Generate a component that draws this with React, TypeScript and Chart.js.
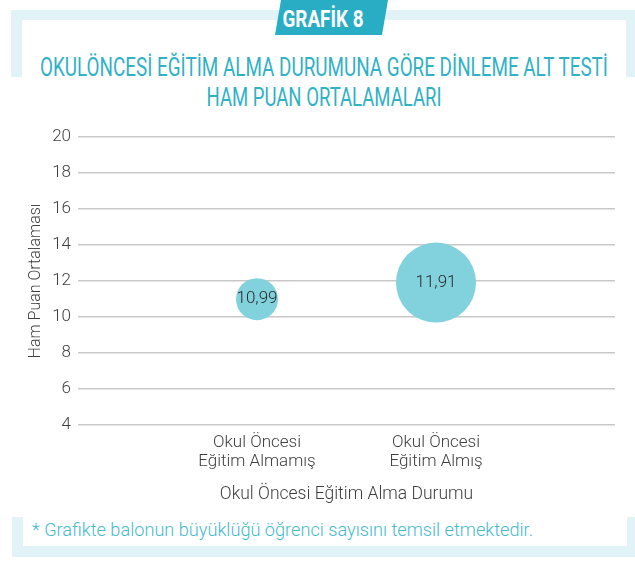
import React, { useEffect, useLayoutEffect, useRef } from "react";
import { Chart, registerables } from "chart.js";

Chart.register(...registerables);

// ---- Data ----
const categories: string[][] = [
  ["Okul Öncesi", "Eğitim Almamış"],
  ["Okul Öncesi", "Eğitim Almış"],
];
const means: number[] = [10.99, 11.91];
const bubbleSizes: number[] = [21, 40];
const valueLabels: string[] = means.map((m) => m.toFixed(2).replace(".", ","));
const yMin = 4;
const yMax = 20;
const yStep = 2;
const xTitle = "Okul Öncesi Eğitim Alma Durumu";
const yTitle = "Ham Puan Ortalaması";
const titleLines: string[] = [
  "OKULÖNCESİ EĞİTİM ALMA DURUMUNA GÖRE DİNLEME ALT TESTİ",
  "HAM PUAN ORTALAMALARI",
];
const badgeText = "GRAFİK 8";
const footnote = "* Grafikte balonun büyüklüğü öğrenci sayısını temsil etmektedir.";

const FRAME = "#e2f3f8";
const TEAL = "#2fb1c6";
const BADGE = "#29adc4";
const BUBBLE = "#82d2de";
const TEXT = "#3e3e3e";

type FitProps = {
  text: string;
  x: number;
  y: number;
  width: number;
  size: number;
  color: string;
  weight?: number;
  anchor?: "center" | "left";
};

function FitText({ text, x, y, width, size, color, weight = 400, anchor = "center" }: FitProps) {
  const ref = useRef<HTMLSpanElement>(null);
  useLayoutEffect(() => {
    const el = ref.current;
    if (!el) return;
    const apply = () => {
      el.style.transform = "none";
      const w = el.getBoundingClientRect().width;
      const k = w > 0 ? width / w : 1;
      el.style.transform =
        anchor === "center" ? `translateX(-50%) scaleX(${k})` : `scaleX(${k})`;
    };
    apply();
    if ((document as any).fonts && (document as any).fonts.ready) {
      (document as any).fonts.ready.then(apply);
    }
  }, [text, width, anchor]);
  return (
    <span
      ref={ref}
      style={{
        position: "absolute",
        left: x,
        top: y,
        whiteSpace: "nowrap",
        fontFamily: "Roboto, 'DejaVu Sans', sans-serif",
        fontSize: size,
        fontWeight: weight,
        lineHeight: 1,
        color,
        transformOrigin: anchor === "center" ? "center" : "left",
      }}
    >
      {text}
    </span>
  );
}

const labelPlugin = {
  id: "bubbleLabels",
  afterDatasetsDraw(chart: any) {
    const ctx = chart.ctx;
    const meta = chart.getDatasetMeta(0);
    ctx.save();
    ctx.font = "300 17px Roboto, sans-serif";
    ctx.fillStyle = "#2a2a2a";
    ctx.textAlign = "center";
    ctx.textBaseline = "middle";
    meta.data.forEach((el: any, i: number) => {
      ctx.fillText(valueLabels[i], el.x, el.y);
    });
    ctx.restore();
  },
};

function BubbleChart() {
  const canvasRef = useRef<HTMLCanvasElement>(null);
  useEffect(() => {
    if (!canvasRef.current) return;
    const chart = new Chart(canvasRef.current, {
      type: "bubble",
      data: {
        datasets: [
          {
            data: means.map((m, i) => ({ x: i + 1, y: m, r: bubbleSizes[i] })),
            backgroundColor: BUBBLE,
            borderWidth: 0,
            hoverRadius: 0,
            hoverBorderWidth: 0,
          },
        ],
      },
      options: {
        animation: false,
        responsive: false,
        maintainAspectRatio: false,
        events: [],
        layout: { autoPadding: false, padding: { top: 22, right: 20, left: 0, bottom: 0 } },
        plugins: {
          legend: { display: false },
          tooltip: { enabled: false },
        },
        scales: {
          x: {
            type: "linear",
            min: 0,
            max: categories.length + 1,
            afterBuildTicks: (s: any) => {
              s.ticks = categories.map((_, i) => ({ value: i + 1 }));
            },
            afterFit: (s: any) => {
              s.height = 90;
            },
            grid: { display: false, drawTicks: false },
            border: { display: false },
            ticks: {
              autoSkip: false,
              maxRotation: 0,
              padding: 8,
              color: TEXT,
              font: { family: "Roboto", size: 17, weight: 300, lineHeight: 1.12 },
              callback: (v: any) => categories[Number(v) - 1] ?? "",
            },
            title: {
              display: true,
              text: xTitle,
              color: TEXT,
              font: { family: "Roboto", size: 17.5, weight: 300 },
              padding: { top: 0, bottom: 10 },
            },
          },
          y: {
            min: yMin,
            max: yMax,
            afterFit: (s: any) => {
              s.width = 78;
            },
            grid: { color: "#c8c8c8", lineWidth: 1.5, drawTicks: false },
            border: { display: false },
            ticks: {
              stepSize: yStep,
              padding: 7,
              color: TEXT,
              font: { family: "Roboto", size: 17, weight: 300 },
            },
            title: {
              display: true,
              text: yTitle,
              color: TEXT,
              font: { family: "Roboto", size: 16, weight: 300 },
              padding: { top: 26, bottom: 0 },
            },
          },
        },
      } as any,
      plugins: [labelPlugin],
    });
    return () => chart.destroy();
  }, []);
  return (
    <canvas
      ref={canvasRef}
      width={635}
      height={400}
      style={{ position: "absolute", left: 0, top: 115, width: 635, height: 400 }}
    />
  );
}

export default function App() {
  return (
    <div
      style={{
        position: "absolute",
        left: 0,
        top: 0,
        width: 635,
        height: 561,
        overflow: "hidden",
        background: "#ffffff",
      }}
    >
      {/* top frame (inverted U) */}
      <div style={{ position: "absolute", left: 11, top: 10, width: 624, height: 10, background: FRAME }} />
      <div style={{ position: "absolute", left: 11, top: 10, width: 11, height: 67, background: FRAME }} />
      <div style={{ position: "absolute", left: 626, top: 10, width: 9, height: 67, background: FRAME }} />
      {/* bottom frame (U) */}
      <div style={{ position: "absolute", left: 12, top: 517, width: 11, height: 40, background: FRAME }} />
      <div style={{ position: "absolute", left: 627, top: 517, width: 8, height: 40, background: FRAME }} />
      <div style={{ position: "absolute", left: 12, top: 546, width: 623, height: 11, background: FRAME }} />
      {/* badge */}
      <div
        style={{
          position: "absolute",
          left: 275,
          top: 0,
          width: 113,
          height: 35,
          background: BADGE,
          clipPath: "polygon(6px 0, 113px 0, 107px 35px, 0 35px)",
        }}
      />
      <FitText text={badgeText} x={322.5} y={6.5} width={81} size={24} color="#ffffff" weight={700} />
      <FitText text={titleLines[0]} x={324} y={55} width={568} size={25} color={TEAL} />
      <FitText text={titleLines[1]} x={323.5} y={85} width={235} size={25} color={TEAL} />
      <BubbleChart />
      <FitText text={footnote} x={32} y={521} width={501} size={18} color="#45bace" weight={300} anchor="left" />
    </div>
  );
}
